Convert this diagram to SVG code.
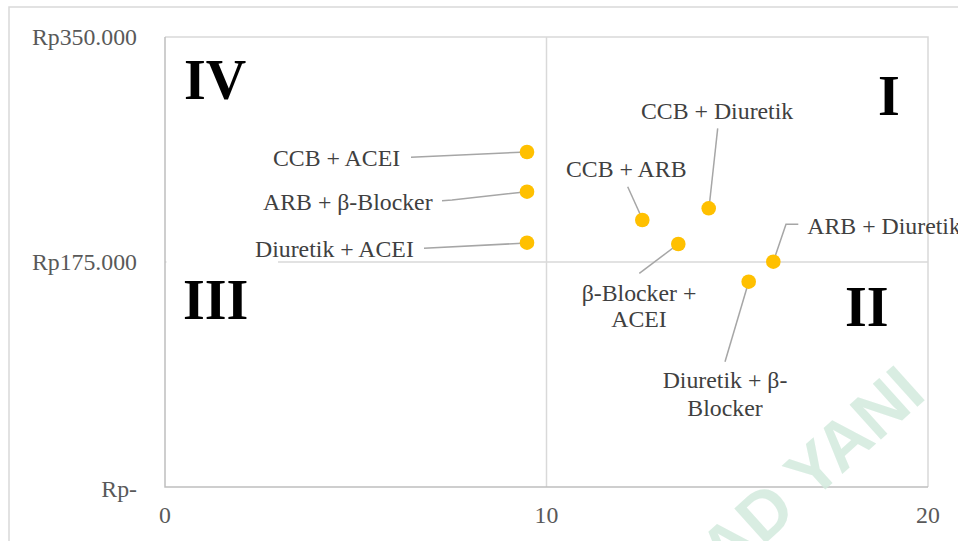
<svg xmlns="http://www.w3.org/2000/svg" width="958" height="541" viewBox="0 0 958 541">
<style>
.frame{fill:none;stroke:#d9d9d9;stroke-width:1.5}
.grid{fill:none;stroke:#d9d9d9;stroke-width:1.5}
.axis{fill:none;stroke:#bfbfbf;stroke-width:1.5}
.box{fill:#ffffff;stroke:none}
.tick{font-family:"Liberation Serif","Times New Roman",serif;font-size:23.8px;fill:#595959}
.lbl{font-family:"Liberation Serif","Times New Roman",serif;font-size:23.8px;fill:#404040}
.quad{font-family:"Liberation Serif","Times New Roman",serif;font-size:56px;font-weight:bold;fill:#000000}
.pt{fill:#ffc000}
.lead{fill:none;stroke:#a6a6a6;stroke-width:1.5}
.wm{font-family:"Liberation Sans",Arial,sans-serif;font-size:68px;font-weight:bold;fill:#d3ebde}
</style>
<rect x="0" y="0" width="958" height="541" fill="#ffffff"/>
<path class="frame" d="M9,541 V7 H958"/>
<g id="plot">
<path class="grid" d="M165,37 H928 V487"/>
<path class="grid" d="M546.5,37 V487"/>
<path class="grid" d="M165,262 H928"/>
<path class="axis" d="M165,37 V487 H928"/>
</g>
<g id="axis-labels">
<text class="tick" x="137" y="44.5" text-anchor="end">Rp350.000</text>
<text class="tick" x="137" y="270" text-anchor="end">Rp175.000</text>
<text class="tick" x="137" y="497" text-anchor="end">Rp-</text>
<text class="tick" x="165" y="522.7" text-anchor="middle">0</text>
<text class="tick" x="546.5" y="522.7" text-anchor="middle">10</text>
<text class="tick" x="928" y="522.7" text-anchor="middle">20</text>
</g>
<g id="quadrant-IV"><rect class="box" x="166.5" y="38.5" width="111.5" height="78"/><text class="quad" x="184" y="98.5">IV</text></g>
<g id="quadrant-I"><text class="quad" x="878" y="114.5">I</text></g>
<g id="quadrant-III"><rect class="box" x="166.5" y="257" width="111.5" height="90"/><text class="quad" x="183" y="318.5">III</text></g>
<g id="quadrant-II"><text class="quad" x="845" y="326">II</text></g>
<g id="connectors">
<path class="lead" d="M411,157.3 L527,152"/>
<path class="lead" d="M442,200.7 L452,200 L527,191.7"/>
<path class="lead" d="M424,248.3 L527,243"/>
<path class="lead" d="M627.7,186.7 L642.3,219"/>
<path class="lead" d="M717.7,128.3 L709,208"/>
<path class="lead" d="M639.3,273.3 L678.3,244"/>
<path class="lead" d="M798.3,224.3 L786,224.3 L773.3,261.7"/>
<path class="lead" d="M725,361.7 L748.7,281.7"/>
</g>
<g id="n-ccb-acei"><circle class="pt" cx="527" cy="152" r="7.3"/><text class="lbl" x="273" y="165.7">CCB + ACEI</text></g>
<g id="n-arb-bb"><circle class="pt" cx="527" cy="191.7" r="7.3"/><text class="lbl" x="263" y="209.5">ARB + β-Blocker</text></g>
<g id="n-diu-acei"><circle class="pt" cx="527" cy="242.7" r="7.3"/><text class="lbl" x="255" y="256.7">Diuretik + ACEI</text></g>
<g id="n-ccb-arb"><circle class="pt" cx="642.3" cy="220" r="7.3"/><text class="lbl" x="566" y="177.3">CCB + ARB</text></g>
<g id="n-ccb-diu"><circle class="pt" cx="708.7" cy="208.3" r="7.3"/><text class="lbl" x="641" y="119.3">CCB + Diuretik</text></g>
<g id="n-bb-acei"><circle class="pt" cx="678.3" cy="244" r="7.3"/><text class="lbl" x="639" y="300.7" text-anchor="middle">β-Blocker +</text><text class="lbl" x="639" y="327.3" text-anchor="middle">ACEI</text></g>
<g id="n-arb-diu"><circle class="pt" cx="773.3" cy="261.7" r="7.3"/><text class="lbl" x="807.3" y="234">ARB + Diuretik</text></g>
<g id="n-diu-bb"><circle class="pt" cx="748.7" cy="281.7" r="7.3"/><text class="lbl" x="725" y="387.7" text-anchor="middle">Diuretik + β-</text><text class="lbl" x="725" y="415.7" text-anchor="middle">Blocker</text></g>
<text class="wm" x="928" y="397" text-anchor="end" transform="rotate(-42 928 397)" opacity="0.85">AD YANI</text>
</svg>
